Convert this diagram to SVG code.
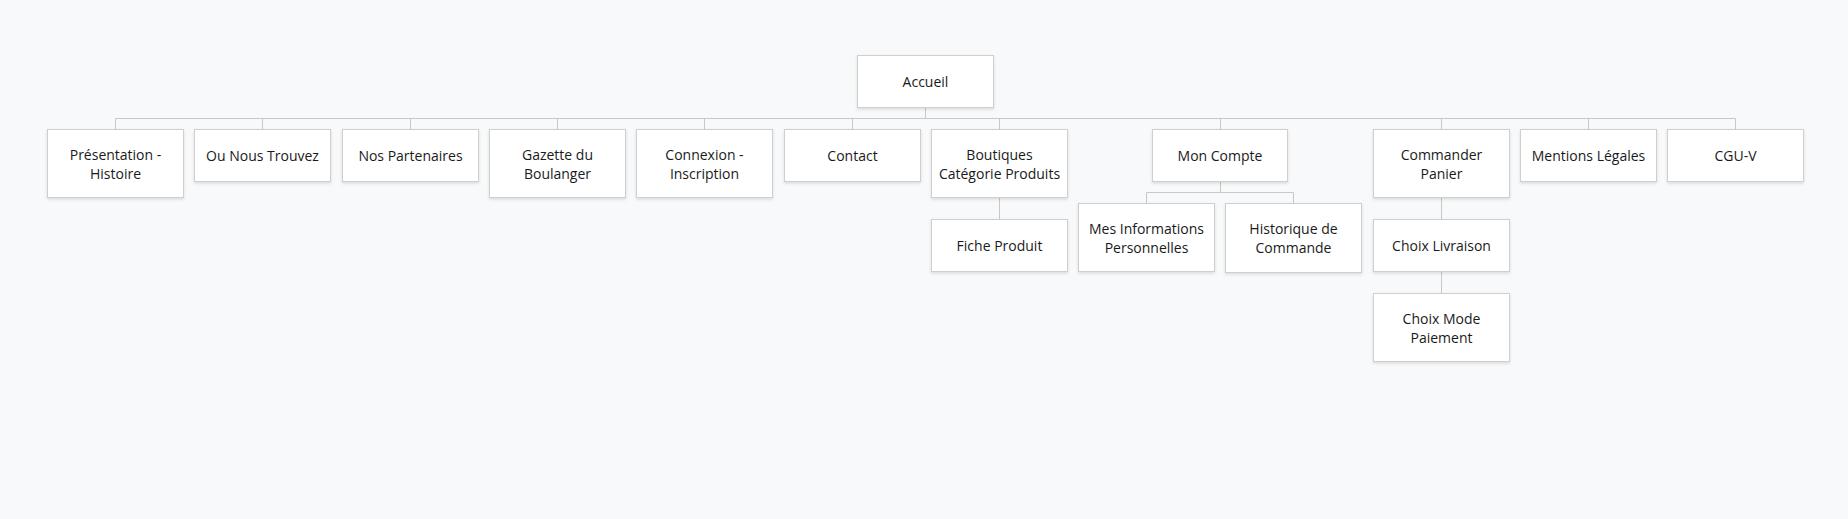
<svg xmlns="http://www.w3.org/2000/svg" width="1848" height="519" viewBox="0 0 1848 519">
<defs>
<filter id="sh" x="-10%" y="-10%" width="120%" height="130%">
<feDropShadow dx="0" dy="1.5" stdDeviation="1.5" flood-color="#000" flood-opacity="0.12"/>
</filter>
<style>
.box{fill:#fff;stroke:#cfcfcf;stroke-width:1;filter:url(#sh)}
.lbl{font-family:"Open Sans","Noto Sans",sans-serif;font-size:14px;fill:#1a1a1a;text-anchor:middle}
.con{fill:none;stroke:#c8c8c8;stroke-width:1}
</style>
</defs>
<rect width="1848" height="519" fill="#f8f9fa"/>
<g id="connectors" class="con">
<path d="M925.5 107V118.5M115.5 118.5H1735.5"/>
<path d="M115.5 118.5V129M262.5 118.5V129M410.5 118.5V129M557.5 118.5V129M704.5 118.5V129M852.5 118.5V129M999.5 118.5V129M1220.5 118.5V129M1441.5 118.5V129M1588.5 118.5V129M1735.5 118.5V129"/>
<path d="M999.5 197V219"/>
<path d="M1220.5 181V192.5M1146.5 192.5H1293.5M1146.5 192.5V203M1293.5 192.5V203"/>
<path d="M1441.5 197V219M1441.5 271V293"/>
</g>
<g id="accueil"><rect class="box" x="857.5" y="55.5" width="136" height="52"/><text class="lbl" x="925.5" y="87">Accueil</text></g>
<g id="presentation"><rect class="box" x="47.5" y="129.5" width="136" height="68"/><text class="lbl" x="115.5" y="160.3">Présentation -<tspan x="115.5" dy="18.6">Histoire</tspan></text></g>
<g id="ou-nous-trouvez"><rect class="box" x="194.5" y="129.5" width="136" height="52"/><text class="lbl" x="262.5" y="161">Ou Nous Trouvez</text></g>
<g id="nos-partenaires"><rect class="box" x="342.5" y="129.5" width="136" height="52"/><text class="lbl" x="410.5" y="161">Nos Partenaires</text></g>
<g id="gazette"><rect class="box" x="489.5" y="129.5" width="136" height="68"/><text class="lbl" x="557.5" y="160.3">Gazette du<tspan x="557.5" dy="18.6">Boulanger</tspan></text></g>
<g id="connexion"><rect class="box" x="636.5" y="129.5" width="136" height="68"/><text class="lbl" x="704.5" y="160.3">Connexion -<tspan x="704.5" dy="18.6">Inscription</tspan></text></g>
<g id="contact"><rect class="box" x="784.5" y="129.5" width="136" height="52"/><text class="lbl" x="852.5" y="161">Contact</text></g>
<g id="boutiques"><rect class="box" x="931.5" y="129.5" width="136" height="68"/><text class="lbl" x="999.5" y="160.3">Boutiques<tspan x="999.5" dy="18.6">Catégorie Produits</tspan></text></g>
<g id="fiche-produit"><rect class="box" x="931.5" y="219.5" width="136" height="52"/><text class="lbl" x="999.5" y="251">Fiche Produit</text></g>
<g id="mon-compte"><rect class="box" x="1152.5" y="129.5" width="135" height="52"/><text class="lbl" x="1220" y="161">Mon Compte</text></g>
<g id="mes-informations"><rect class="box" x="1078.5" y="203.5" width="136" height="68"/><text class="lbl" x="1146.5" y="234.3">Mes Informations<tspan x="1146.5" dy="18.6">Personnelles</tspan></text></g>
<g id="historique"><rect class="box" x="1225.5" y="203.5" width="136" height="69"/><text class="lbl" x="1293.5" y="234.3">Historique de<tspan x="1293.5" dy="18.6">Commande</tspan></text></g>
<g id="commander-panier"><rect class="box" x="1373.5" y="129.5" width="136" height="68"/><text class="lbl" x="1441.5" y="160.3">Commander<tspan x="1441.5" dy="18.6">Panier</tspan></text></g>
<g id="choix-livraison"><rect class="box" x="1373.5" y="219.5" width="136" height="52"/><text class="lbl" x="1441.5" y="251">Choix Livraison</text></g>
<g id="choix-paiement"><rect class="box" x="1373.5" y="293.5" width="136" height="68"/><text class="lbl" x="1441.5" y="324.3">Choix Mode<tspan x="1441.5" dy="18.6">Paiement</tspan></text></g>
<g id="mentions-legales"><rect class="box" x="1520.5" y="129.5" width="136" height="52"/><text class="lbl" x="1588.5" y="161">Mentions Légales</text></g>
<g id="cgu-v"><rect class="box" x="1667.5" y="129.5" width="136" height="52"/><text class="lbl" x="1735.5" y="161">CGU-V</text></g>
</svg>
